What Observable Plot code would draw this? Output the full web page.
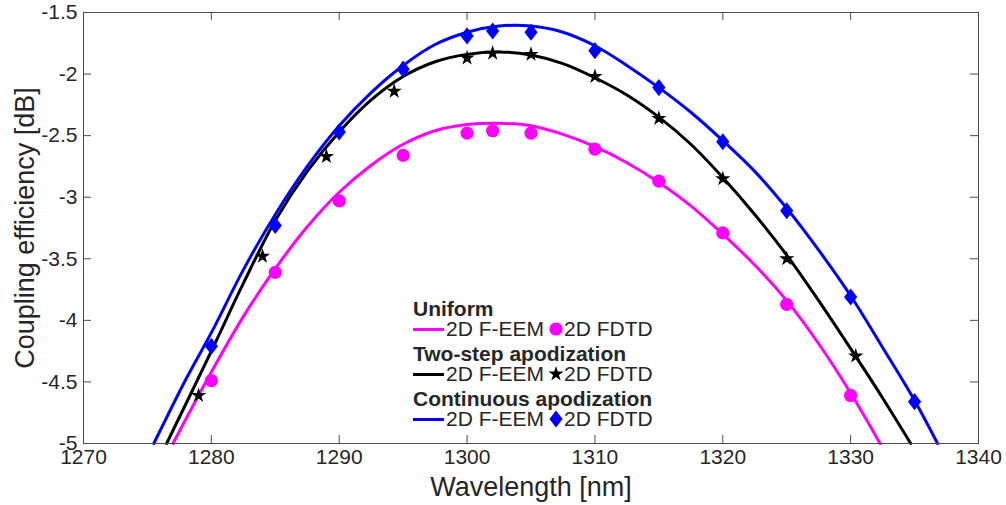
<!DOCTYPE html>
<html>
<head>
<meta charset="utf-8">
<script src="https://cdn.jsdelivr.net/npm/d3@7"></script>
<script src="https://cdn.jsdelivr.net/npm/@observablehq/plot@0.6"></script>
<style>
  body { margin: 0; background: #fff; }
  #wrap { position: relative; width: 1006px; height: 505px; font-family: "Liberation Sans", Arial, sans-serif; color: #262626; }
  #legend { position: absolute; left: 413px; top: 294.5px; font-size: 21px; }
  .lh { font-weight: bold; line-height: 20.5px; margin-top: 4px; white-space: nowrap; }
  .lr { height: 20.5px; white-space: nowrap; display: flex; align-items: center; }
  .sw { display: inline-block; width: 31px; height: 3px; margin-right: 2px; }
  .mk { display: inline-block; margin: 0 1px 0 5px; }
</style>
</head>
<body>
<div id="wrap"></div>
<script>
// ---- axis ticks ----
const xTicks = [1270, 1280, 1290, 1300, 1310, 1320, 1330, 1340];
const yTicks = [-5, -4.5, -4, -3.5, -3, -2.5, -2, -1.5];
const xLabel = "Wavelength [nm]";
const yLabel = "Coupling efficiency [dB]";

// ---- Uniform ----
const uniformEemWl = [1277, 1280, 1282.5, 1285, 1287.5, 1290, 1292.5, 1295, 1297.5, 1300, 1302.5, 1305, 1307.5, 1310, 1312.5, 1315, 1317.5, 1320, 1322.5, 1325, 1327.5, 1330, 1332.3];
const uniformEemDb = [-5.0, -4.42, -3.97, -3.58, -3.24, -2.96, -2.74, -2.57, -2.46, -2.41, -2.40, -2.42, -2.49, -2.59, -2.72, -2.88, -3.07, -3.30, -3.55, -3.84, -4.19, -4.59, -5.0];
const uniformFdtdWl = [1280, 1285, 1290, 1295, 1300, 1302, 1305, 1310, 1315, 1320, 1325, 1330];
const uniformFdtdDb = [-4.49, -3.61, -3.03, -2.66, -2.48, -2.46, -2.48, -2.61, -2.87, -3.29, -3.87, -4.61];

// ---- Two-step apodization ----
const twoStepEemWl = [1276.5, 1280, 1282.5, 1285, 1287.5, 1290, 1292.5, 1295, 1297.5, 1300, 1302.5, 1305, 1307.5, 1310, 1312.5, 1315, 1317.5, 1320, 1322.5, 1325, 1327.5, 1330, 1332.5, 1334.7];
const twoStepEemDb = [-5.0, -4.25, -3.70, -3.19, -2.79, -2.47, -2.21, -2.02, -1.90, -1.84, -1.82, -1.845, -1.915, -2.03, -2.17, -2.35, -2.57, -2.84, -3.14, -3.47, -3.84, -4.23, -4.63, -5.0];
const twoStepFdtdWl = [1279, 1284, 1289, 1294.3, 1300, 1302, 1305, 1310, 1315, 1320, 1325, 1330.4];
const twoStepFdtdDb = [-4.61, -3.48, -2.67, -2.14, -1.87, -1.83, -1.84, -2.02, -2.36, -2.85, -3.50, -4.29];

// ---- Continuous apodization ----
const contEemWl = [1275.5, 1278, 1280, 1282.5, 1285, 1287.5, 1290, 1292.5, 1295, 1297.5, 1300, 1302.5, 1305, 1307.5, 1310, 1312.5, 1315, 1317.5, 1320, 1322.5, 1325, 1327.5, 1330, 1332.5, 1335, 1336.8];
const contEemDb = [-5.0, -4.48, -4.10, -3.59, -3.14, -2.75, -2.42, -2.15, -1.93, -1.76, -1.66, -1.61, -1.61, -1.66, -1.77, -1.93, -2.11, -2.31, -2.54, -2.79, -3.09, -3.43, -3.80, -4.22, -4.65, -5.0];
const contFdtdWl = [1280, 1285, 1290, 1295, 1300, 1302, 1305, 1310, 1315, 1320, 1325, 1330, 1335];
const contFdtdDb = [-4.21, -3.23, -2.47, -1.96, -1.69, -1.65, -1.66, -1.81, -2.11, -2.55, -3.11, -3.81, -4.66];

const series = [
  {name: "Uniform", color: "#ff00ff", symbol: "circle", eemWl: uniformEemWl, eemDb: uniformEemDb, fdtdWl: uniformFdtdWl, fdtdDb: uniformFdtdDb},
  {name: "Two-step apodization", color: "#000000", symbol: "star", eemWl: twoStepEemWl, eemDb: twoStepEemDb, fdtdWl: twoStepFdtdWl, fdtdDb: twoStepFdtdDb},
  {name: "Continuous apodization", color: "#0000ff", symbol: "diamond", eemWl: contEemWl, eemDb: contEemDb, fdtdWl: contFdtdWl, fdtdDb: contFdtdDb}
];

// custom diamond (less elongated than d3's)
const diamondShape = {
  draw(context, size) {
    const h = Math.sqrt(size * 1.3 / 2);
    const w = h / 1.3;
    context.moveTo(0, -h);
    context.lineTo(w, 0);
    context.lineTo(0, h);
    context.lineTo(-w, 0);
    context.closePath();
  }
};
const markerSpec = {
  circle: {symbol: "circle", r: 6.6},
  star: {symbol: "star", r: 4.8},
  diamond: {symbol: diamondShape, r: 6.0}
};

const W = 1006, H = 505;
const mL = 83, mR = 28, mT = 12, mB = 62;
const plotW = W - mL - mR, plotH = H - mT - mB;
const tickLen = 8;
const axisColor = "#4a4a4a";

const marks = [];
// inward ticks on all four sides
marks.push(Plot.ruleX(xTicks, {insetTop: plotH - tickLen, stroke: axisColor}));
marks.push(Plot.ruleX(xTicks, {insetBottom: plotH - tickLen, stroke: axisColor}));
marks.push(Plot.ruleY(yTicks, {insetRight: plotW - tickLen, stroke: axisColor}));
marks.push(Plot.ruleY(yTicks, {insetLeft: plotW - tickLen, stroke: axisColor}));

for (const s of series) {
  const pts = s.eemWl.map((x, i) => ({x, y: s.eemDb[i]}));
  marks.push(Plot.line(pts, {x: "x", y: "y", stroke: s.color, strokeWidth: 3, curve: "catmull-rom"}));
}
for (const s of series) {
  const pts = s.fdtdWl.map((x, i) => ({x, y: s.fdtdDb[i]}));
  const m = markerSpec[s.symbol];
  marks.push(Plot.dot(pts, {x: "x", y: "y", symbol: () => m.symbol, r: m.r, fill: s.color, stroke: "none"}));
}

marks.push(Plot.frame({stroke: axisColor, strokeWidth: 1}));
marks.push(Plot.axisX(xTicks, {tickSize: 0, tickPadding: 6, fontSize: 21, fill: "#262626", tickFormat: d => String(d), label: null}));
marks.push(Plot.axisY(yTicks, {tickSize: 0, tickPadding: 6, fontSize: 21, fill: "#262626", tickFormat: d => String(d), label: null}));
marks.push(Plot.text([xLabel], {frameAnchor: "bottom", dy: 44, lineAnchor: "middle", textAnchor: "middle", fontSize: 27, fill: "#262626", text: d => d}));
marks.push(Plot.text([yLabel], {frameAnchor: "left", dx: -58, rotate: -90, lineAnchor: "middle", textAnchor: "middle", fontSize: 27, fill: "#262626", text: d => d}));

const chart = Plot.plot({
  width: W, height: H,
  marginLeft: mL, marginRight: mR, marginTop: mT, marginBottom: mB,
  x: {domain: [1270, 1340], axis: null},
  y: {domain: [-5, -1.5], axis: null},
  symbol: {type: "identity"},
  style: {fontFamily: "'Liberation Sans', Arial, sans-serif", background: "#fff", color: "#262626", overflow: "visible"},
  marks
});
const wrap = document.getElementById("wrap");
wrap.appendChild(chart);

// ---- legend (HTML overlay) ----
const legend = document.createElement("div");
legend.id = "legend";
function markerSvg(s) {
  const m = markerSpec[s.symbol];
  const sym = m.symbol === "circle" ? d3.symbolCircle : m.symbol === "star" ? d3.symbolStar : m.symbol;
  const path = d3.symbol(sym, m.r * m.r * Math.PI)();
  return `<svg class="mk" width="14" height="18" viewBox="-7 -9 14 18"><path d="${path}" fill="${s.color}"/></svg>`;
}
for (const s of series) {
  const h = document.createElement("div");
  h.className = "lh";
  h.textContent = s.name;
  legend.appendChild(h);
  const r = document.createElement("div");
  r.className = "lr";
  r.innerHTML = `<span class="sw" style="background:${s.color}"></span><span>2D F-EEM</span>${markerSvg(s)}<span>2D FDTD</span>`;
  legend.appendChild(r);
}
wrap.appendChild(legend);
</script>
</body>
</html>
